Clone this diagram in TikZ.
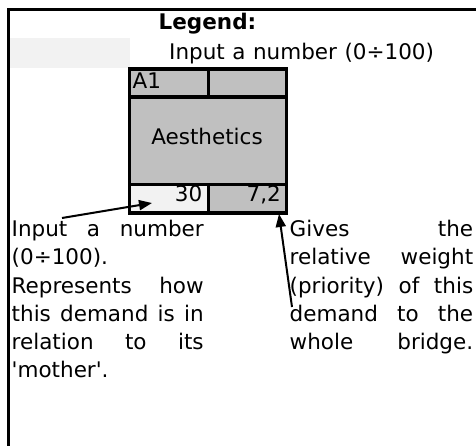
\documentclass[tikz,border=0pt]{standalone}
\usepackage{fontspec}
\setmainfont{DejaVu Sans}[WordSpace=1.1]
\usetikzlibrary{arrows.meta}
\definecolor{cellgray}{HTML}{C0C0C0}
\definecolor{lightcell}{HTML}{F2F2F2}
\tikzset{
  cell/.style={draw=black, line width=3.2pt, anchor=north west, inner sep=0pt, minimum height=28pt},
  txt/.style={inner sep=0pt, font=\fontsize{21.5}{28.2}\selectfont},
  para/.style={txt, anchor=north west, align=left},
  pointer/.style={line width=2pt, -{Triangle[length=13pt,width=10pt]}},
}
\newcommand\jline[2]{\makebox[#1][s]{#2}}
\begin{document}
\begin{tikzpicture}[x=1pt,y=-1pt]
\useasboundingbox (0,0) rectangle (476,446);
% frame
\draw[line width=3.2pt] (8.5,450) -- (8.5,9.5) -- (480,9.5);
% light strip
\fill[lightcell] (10.1,38) rectangle (130,68);
% titles
\node[txt, anchor=base west, font=\fontsize{21.5}{28.2}\selectfont\bfseries] (legend) at (158.5,29.5) {Legend:};
\node[txt, anchor=base west] (inputhint) at (169,60) {Input a number (0÷100)};
% demand box
\node[cell, fill=cellgray, minimum width=78.5pt] (hdrL) at (128,67.5) {};
\node[cell, fill=cellgray, minimum width=78pt] (hdrR) at (206.5,67.5) {};
\node[cell, fill=cellgray, minimum width=156.5pt, minimum height=87.5pt] (body) at (128,95.5) {};
\node[cell, fill=lightcell, minimum width=78.5pt, minimum height=28.5pt] (ftL) at (128,183) {};
\node[cell, fill=cellgray, minimum width=78pt, minimum height=28.5pt] (ftR) at (206.5,183) {};
\node[txt, anchor=base west] (code) at (132.5,88.5) {A1};
\node[txt, anchor=base] (name) at (207,145) {Aesthetics};
\node[txt, anchor=base east] (val) at (202.5,202) {30};
\node[txt, anchor=base east] (wt) at (281,202) {7,2};
% explanations
\node[para] (leftpara) at (11.5,219.5) {\rule{0pt}{17pt}\jline{192pt}{Input a number}\\
(0÷100).\\
\jline{192pt}{Represents how}\\
\jline{192pt}{this demand is in}\\
\jline{192pt}{relation to its}\\
\textquotesingle mother\textquotesingle.};
\node[para] (rightpara) at (289.5,219.5) {\rule{0pt}{17pt}\jline{183.5pt}{Gives the}\\
\jline{183.5pt}{relative weight}\\
\jline{183.5pt}{(priority) of this}\\
\jline{183.5pt}{demand to the}\\
\jline{183.5pt}{whole bridge.}};
% pointers
\coordinate (p1s) at (62,218);
\coordinate (p1e) at (152,203);
\coordinate (p2s) at (292,307);
\coordinate (p2e) at (279,214);
\draw[pointer] (p1s) -- (p1e);
\draw[pointer] (p2s) -- (p2e);
\end{tikzpicture}
\end{document}
